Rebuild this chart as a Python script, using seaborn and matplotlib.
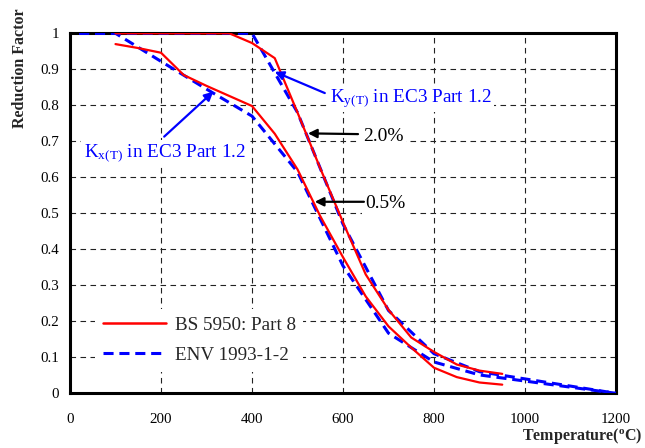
import numpy as np
import pandas as pd
import matplotlib
matplotlib.use("Agg")
import matplotlib.pyplot as plt
from matplotlib.lines import Line2D
import seaborn as sns

# Temperatures (deg C) and strength reduction factors
bs_temp = [100, 150, 200, 250, 300, 350, 400, 450, 500, 550, 600, 650, 700, 750, 800, 850, 900, 950]
bs_strain_2_0 = [1.0, 1.0, 1.0, 1.0, 1.0, 1.0, 0.973, 0.931, 0.78, 0.625, 0.475, 0.33,
                 0.232, 0.155, 0.115, 0.08, 0.063, 0.054]
bs_strain_0_5 = [0.970, 0.959, 0.946, 0.884, 0.854, 0.826, 0.798, 0.721, 0.622, 0.492,
                 0.378, 0.269, 0.186, 0.127, 0.071, 0.045, 0.030, 0.024]

ec3_temp = [20, 100, 200, 300, 400, 500, 600, 700, 800, 900, 1000, 1100, 1200]
ec3_ky = [1.0, 1.0, 1.0, 1.0, 1.0, 0.78, 0.47, 0.23, 0.11, 0.06, 0.04, 0.02, 0.0]
ec3_kx = [1.0, 1.0, 0.922, 0.845, 0.770, 0.615, 0.354, 0.167, 0.087, 0.051, 0.034, 0.017, 0.0]

x_ticks = [0, 200, 400, 600, 800, 1000, 1200]
y_ticks = [0, 0.1, 0.2, 0.3, 0.4, 0.5, 0.6, 0.7, 0.8, 0.9, 1.0]
y_tick_labels = ["0", "0.1", "0.2", "0.3", "0.4", "0.5", "0.6", "0.7", "0.8", "0.9", "1"]

legend_labels = ["BS 5950: Part 8", "ENV 1993-1-2"]

sns.set_theme(style="white")
plt.rcParams["font.family"] = ["Liberation Serif", "DejaVu Serif"]
plt.rcParams["mathtext.fontset"] = "custom"
plt.rcParams["mathtext.rm"] = "Liberation Serif"
plt.rcParams["mathtext.it"] = "Liberation Serif:italic"
plt.rcParams["mathtext.bf"] = "Liberation Serif:bold"

RED = "#FF0000"
BLUE = "#0000FF"
blue_dash = (0, (3.3, 1.9))

fig = plt.figure(figsize=(6.45, 4.48), dpi=100)
ax = fig.add_axes([70 / 645, 1 - 393.3 / 448, 546 / 645, 360 / 448])
ax.set_axisbelow(True)

bs = pd.DataFrame({"T": bs_temp, "s20": bs_strain_2_0, "s05": bs_strain_0_5})
ec = pd.DataFrame({"T": ec3_temp, "ky": ec3_ky, "kx": ec3_kx})

sns.lineplot(data=ec, x="T", y="ky", ax=ax, color=BLUE, lw=2.2, linestyle=blue_dash, zorder=3)
sns.lineplot(data=ec, x="T", y="kx", ax=ax, color=BLUE, lw=2.2, linestyle=blue_dash, zorder=3)
sns.lineplot(data=bs, x="T", y="s20", ax=ax, color=RED, lw=1.6, zorder=4)
sns.lineplot(data=bs, x="T", y="s05", ax=ax, color=RED, lw=1.6, zorder=4)

ax.set_xlim(0, 1200)
ax.set_ylim(0, 1)
ax.set_xticks(x_ticks)
ax.set_xticklabels([str(t) for t in x_ticks])
ax.set_yticks(y_ticks)
ax.set_yticklabels(y_tick_labels)
ax.set_xlabel("")
ax.set_ylabel("")

ax.grid(True, color="#222222", linestyle=(0, (5, 4)), lw=0.8)
for s in ax.spines.values():
    s.set_color("black")
    s.set_linewidth(2.2)
ax.tick_params(axis="both", direction="out", length=4, width=1.3, colors="black",
               labelsize=10.8, labelcolor="black")
ax.tick_params(axis="x", pad=10)
ax.tick_params(axis="y", pad=4)

# Legend on a white, borderless box that masks the grid behind it
handles = [Line2D([], [], color=RED, lw=1.8),
           Line2D([], [], color=BLUE, lw=2.2, linestyle=blue_dash)]
leg = ax.legend(handles, legend_labels, loc="center left", bbox_to_anchor=(0.046, 0.147),
                frameon=True, fontsize=13.8, handlelength=3.3, handletextpad=0.45,
                labelspacing=0.65, borderpad=0.4, borderaxespad=0, fancybox=False)
leg.get_frame().set_facecolor("white")
leg.get_frame().set_edgecolor("none")
leg.get_frame().set_alpha(1)

# Annotations
def arrow(tail, head, color):
    ax.annotate("", xy=head, xytext=tail,
                arrowprops=dict(arrowstyle="-|>", color=color, lw=1.6,
                                mutation_scale=13, shrinkA=0, shrinkB=0), zorder=5)

box = dict(facecolor="white", edgecolor="none", pad=2)

ax.text(571, 0.809, r"K$_{\mathrm{y(T)}}$ in EC3 Part 1.2", color=BLUE, fontsize=13.8,
        ha="left", va="baseline", bbox=box, zorder=2)
arrow((560, 0.834), (450, 0.893), BLUE)

ax.text(31, 0.657, r"K$_{\mathrm{x(T)}}$ in EC3 Part 1.2", color=BLUE, fontsize=13.8,
        ha="left", va="baseline", bbox=box, zorder=2)
arrow((207, 0.713), (315, 0.838), BLUE)

ax.text(644, 0.701, "2.0%", color="black", fontsize=14, ha="left", va="baseline",
        bbox=box, zorder=2)
arrow((633, 0.720), (523, 0.722), "black")

ax.text(648, 0.515, "0.5%", color="black", fontsize=14, ha="left", va="baseline",
        bbox=box, zorder=2)
arrow((646, 0.532), (538, 0.532), "black")

fig.text(20 / 645, 1 - 68 / 448, "Reduction Factor", rotation=90, fontsize=11.5,
         fontweight="bold", ha="center", va="center")
fig.text(642 / 645, 1 - 436 / 448, r"Temperature($^{\mathbf{o}}$C)", fontsize=11.5,
         fontweight="bold", ha="right", va="center")

fig.savefig("out.png", dpi=100)
